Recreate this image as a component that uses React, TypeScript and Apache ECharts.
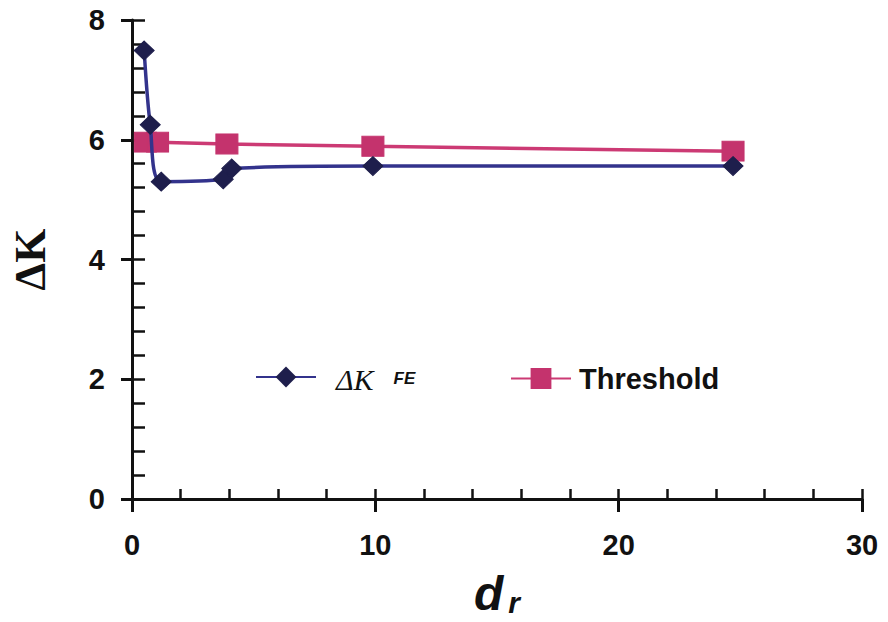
import React, { useEffect, useRef } from "react";
import * as echarts from "echarts";

const dkX = [0.5, 0.75, 1.2, 3.75, 4.1, 9.9, 24.7];
const dkY = [7.49, 6.25, 5.3, 5.34, 5.52, 5.56, 5.56];
const thX = [0.55, 1.05, 3.9, 9.9, 24.7];
const thY = [5.96, 5.96, 5.93, 5.89, 5.81];
const seriesNames = ["ΔK FE", "Threshold"];
const xAxisName = "d r";
const yAxisName = "ΔK";

const AX = "#111111";
const SANS = "Liberation Sans, Arial, sans-serif";
const SERIF = "Liberation Serif, Times New Roman, serif";

export default function App() {
  const ref = useRef<HTMLDivElement>(null);
  useEffect(() => {
    const chart = echarts.init(ref.current!, null, { renderer: "svg" });
    const dk = dkX.map((x, i) => [x, dkY[i]]);
    const th = thX.map((x, i) => [x, thY[i]]);
    const [xd, xr] = xAxisName.split(" ");
    chart.setOption({
      animation: false,
      backgroundColor: "#ffffff",
      grid: { left: 123, right: 26, top: 20, bottom: 115, containLabel: false },
      legend: [
        {
          data: [seriesNames[0]],
          left: 250,
          top: 359,
          itemWidth: 60,
          itemHeight: 26,
          formatter: () => {
            const parts = seriesNames[0].split(" ");
            return `{a|${parts[0]}}{b|${parts[1]}}`;
          },
          textStyle: {
            color: AX,
            padding: [0, 0, 0, 15],
            rich: {
              a: {
                fontFamily: SERIF,
                fontStyle: "italic",
                fontSize: 30,
                color: AX,
                lineHeight: 34,
                verticalAlign: "bottom",
                padding: [0, 20, 0, 0],
              },
              b: {
                fontFamily: SANS,
                fontStyle: "italic",
                fontWeight: "bold",
                fontSize: 17,
                color: AX,
                lineHeight: 34,
                verticalAlign: "bottom",
                padding: [0, 0, 7, 0],
              },
            },
          },
        },
        {
          data: [seriesNames[1]],
          left: 505,
          top: 359,
          itemWidth: 60,
          itemHeight: 26,
          textStyle: {
            color: AX,
            fontFamily: SANS,
            fontWeight: "bold",
            fontSize: 29,
            padding: [0, 0, 0, 3],
          },
        },
      ],
      xAxis: [
        {
          type: "value",
          min: 0,
          max: 30,
          interval: 10,
          position: "bottom",
          axisLine: { show: true, lineStyle: { color: AX, width: 3 } },
          axisTick: { show: true, inside: false, length: 13, lineStyle: { color: AX, width: 3 } },
          axisLabel: { color: AX, fontFamily: SANS, fontWeight: "bold", fontSize: 29, margin: 31 },
          splitLine: { show: false },
          name: `{d|${xd}}{r|${xr}}`,
          nameLocation: "middle",
          nameGap: 68,
          nameTextStyle: {
            rich: {
              d: {
                fontFamily: SANS,
                fontStyle: "italic",
                fontWeight: "bold",
                fontSize: 48,
                color: AX,
                lineHeight: 50,
                verticalAlign: "bottom",
              },
              r: {
                fontFamily: SANS,
                fontStyle: "italic",
                fontWeight: "bold",
                fontSize: 30,
                color: AX,
                lineHeight: 50,
                verticalAlign: "bottom",
                padding: [0, 0, 0, 5],
              },
            },
          },
        },
        {
          type: "value",
          min: 0,
          max: 30,
          interval: 2,
          position: "bottom",
          axisLine: { show: false },
          axisTick: { show: true, inside: true, length: 10, lineStyle: { color: AX, width: 2.5 } },
          axisLabel: { show: false },
          splitLine: { show: false },
        },
      ],
      yAxis: [
        {
          type: "value",
          min: 0,
          max: 8,
          interval: 2,
          position: "left",
          axisLine: { show: true, lineStyle: { color: AX, width: 3 } },
          axisTick: { show: true, inside: false, length: 11, lineStyle: { color: AX, width: 3 } },
          axisLabel: { color: AX, fontFamily: SANS, fontWeight: "bold", fontSize: 29, margin: 27 },
          splitLine: { show: false },
          name: yAxisName,
          nameLocation: "middle",
          nameRotate: 90,
          nameGap: 80,
          nameTextStyle: { fontFamily: SERIF, fontWeight: "bold", fontSize: 44, color: AX },
        },
        {
          type: "value",
          min: 0,
          max: 8,
          interval: 0.4,
          position: "left",
          axisLine: { show: false },
          axisTick: { show: true, inside: true, length: 13, lineStyle: { color: AX, width: 2.5 } },
          axisLabel: { show: false },
          splitLine: { show: false },
        },
      ],
      series: [
        {
          name: seriesNames[0],
          type: "line",
          xAxisIndex: 0,
          yAxisIndex: 0,
          data: dk,
          smooth: 0.3,
          symbol: "diamond",
          symbolSize: [20, 19],
          lineStyle: { color: "#33338c", width: 3.5 },
          itemStyle: { color: "#1e1e4c", borderColor: "#1e1e4c" },
          z: 3,
        },
        {
          name: seriesNames[1],
          type: "line",
          xAxisIndex: 0,
          yAxisIndex: 0,
          data: th,
          smooth: false,
          symbol: "rect",
          symbolSize: [22, 20],
          lineStyle: { color: "#cc3a74", width: 3.5 },
          itemStyle: { color: "#c4336d", borderColor: "#c4336d" },
          z: 2,
        },
      ],
    });
    return () => chart.dispose();
  }, []);
  return (
    <div
      ref={ref}
      style={{ position: "fixed", left: 0, top: 0, width: 888, height: 622, background: "#fff" }}
    />
  );
}
